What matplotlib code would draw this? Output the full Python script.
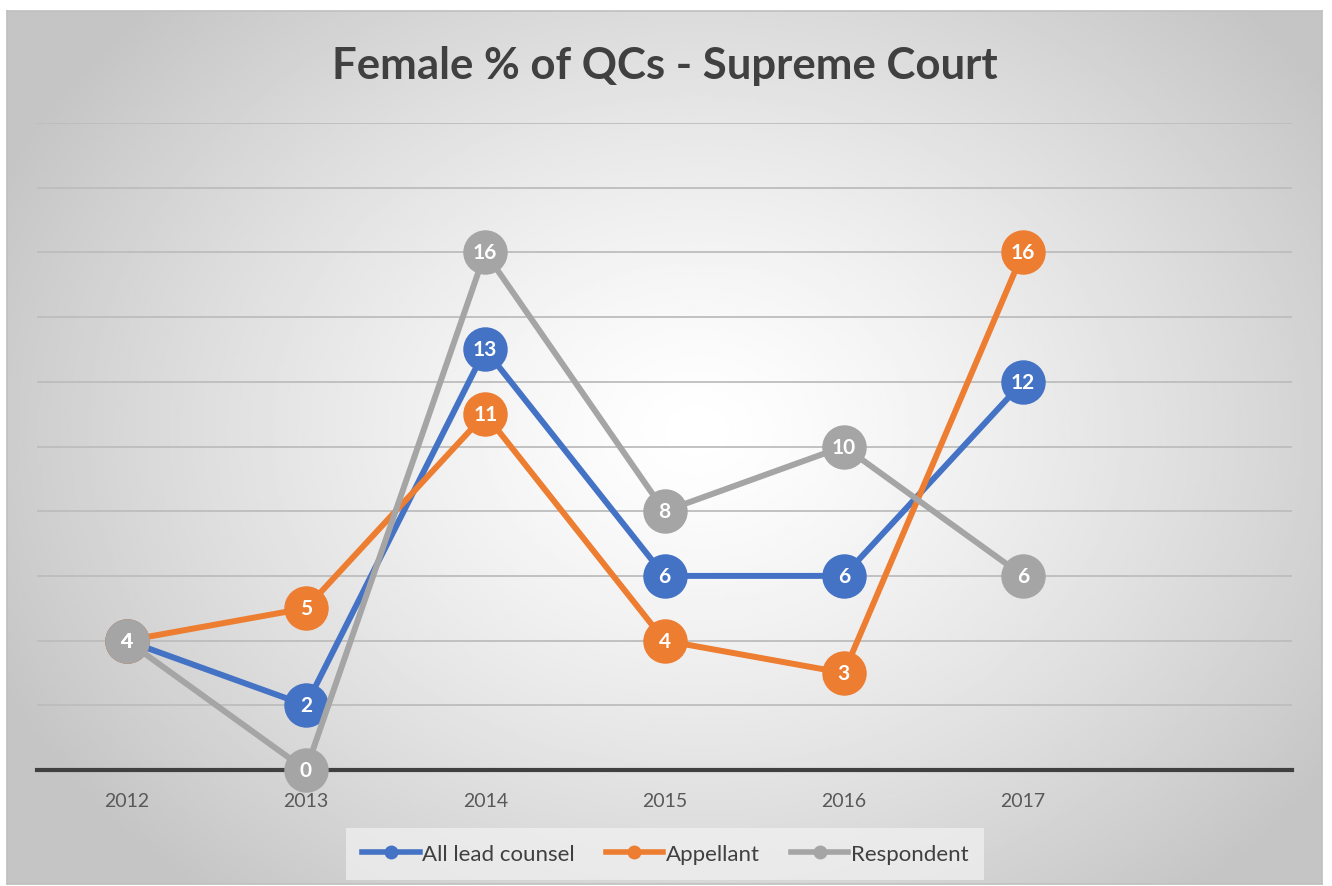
import numpy as np
import matplotlib.pyplot as plt

plt.rcParams['font.family'] = ['Lato', 'DejaVu Sans']

years = ['2012', '2013', '2014', '2015', '2016', '2017']
all_lead = [4, 2, 13, 6, 6, 12]
appellant = [4, 5, 11, 4, 3, 16]
respondent = [4, 0, 16, 8, 10, 6]

series = [
    ('All lead counsel', all_lead, '#4472C4'),
    ('Appellant', appellant, '#ED7D31'),
    ('Respondent', respondent, '#A5A5A5'),
]

W, H = 1332, 887
fig = plt.figure(figsize=(W / 100, H / 100), dpi=100)
fig.patch.set_facecolor('white')

# radial gradient background for the chart area
bg = fig.add_axes([7 / W, 1 - 885 / H, 1315 / W, 873 / H])
gx, gy = np.meshgrid(np.linspace(0, 1315, 400), np.linspace(0, 873, 300))
r = np.sqrt(((gx - 690) / 950) ** 2 + ((gy - 420) / 750) ** 2)
shade = np.clip(1 - 0.30 * r ** 1.3, 0.77, 1)
bg.imshow(shade, cmap='gray', vmin=0, vmax=1, aspect='auto', extent=[0, 1, 0, 1])
bg.set_xticks([])
bg.set_yticks([])
for s in bg.spines.values():
    s.set_color('#bfbfbf')
    s.set_linewidth(1.2)

ax = fig.add_axes([37 / W, 1 - 771 / H, 1255 / W, 647 / H])
ax.patch.set_alpha(0)
x = np.arange(len(years))

for name, vals, color in series:
    ax.plot(x, vals, color=color, lw=4.3, marker='o', markersize=32,
            markeredgewidth=0, label=name, zorder=3, clip_on=False)
    for xi, v in zip(x, vals):
        ax.text(xi, v, str(v), ha='center', va='center', color='white',
                fontsize=15, fontweight='bold', zorder=4)

ax.set_xlim(-0.5, 6.5)
ax.set_ylim(0, 20)
ax.set_yticks(np.arange(0, 21, 2))
ax.set_yticklabels([])
ax.tick_params(axis='y', length=0)
ax.set_xticks(x)
ax.set_xticklabels(years, fontsize=14, color='#595959')
ax.tick_params(axis='x', length=0, pad=16)
ax.grid(axis='y', color='#bdbdbd', lw=1.3)
ax.set_axisbelow(True)
for s in ['top', 'right', 'left']:
    ax.spines[s].set_visible(False)
ax.spines['bottom'].set_color('#404040')
ax.spines['bottom'].set_linewidth(3)
ax.spines['bottom'].set_zorder(2.5)

fig.text(665 / W, 1 - 66 / H, 'Female % of QCs - Supreme Court', ha='center',
         va='center', fontsize=31.5, fontweight='bold', color='#404040')

handles = [plt.Line2D([], [], color=c, lw=4, marker='o', markersize=9)
           for _, _, c in series]
leg = fig.legend(handles, [n for n, _, _ in series], loc='center',
                 bbox_to_anchor=(665 / W, 1 - 855 / H), ncol=3, fontsize=16,
                 frameon=True, handlelength=2.6, handletextpad=0.1,
                 columnspacing=1.4, labelcolor='#404040')
leg.get_frame().set_facecolor('#f2f2f2')
leg.get_frame().set_alpha(0.7)
leg.get_frame().set_edgecolor('none')
leg.get_frame().set_boxstyle('square', pad=0.3)

fig.savefig('out.png', dpi=100)
